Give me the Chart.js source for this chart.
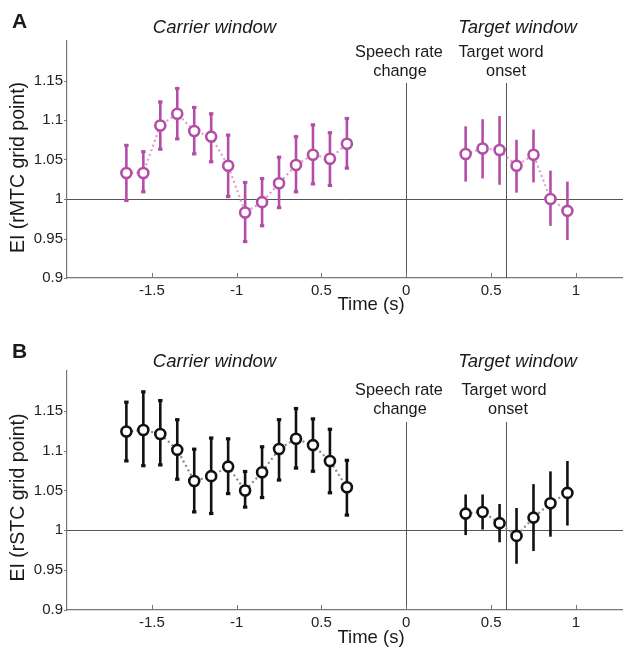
<!DOCTYPE html>
<html><head><meta charset="utf-8">
<script src="https://cdn.jsdelivr.net/npm/chart.js@4"></script>
<style>
html,body{margin:0;padding:0;background:#fff;overflow:hidden;}
#wrap{position:relative;width:623px;height:648px;overflow:hidden;}
.p{position:absolute;left:0;width:631px;}
</style></head><body>
<div id="wrap">
<div class="p" style="top:0;height:330px;"><canvas id="cA" width="631" height="330"></canvas></div>
<div class="p" style="top:330px;height:318px;"><canvas id="cB" width="631" height="318"></canvas></div>
</div>
<script>
// ---- data ----
const carrierTimes = [-1.65,-1.55,-1.45,-1.35,-1.25,-1.15,-1.05,-0.95,-0.85,-0.75,-0.65,-0.55,-0.45,-0.35];
const targetTimes = [0.35,0.45,0.55,0.65,0.75,0.85,0.95];

const aCarrierMean = [1.033,1.033,1.093,1.108,1.086,1.079,1.042,0.983,0.996,1.020,1.043,1.056,1.051,1.070];
const aCarrierHi   = [1.068,1.060,1.123,1.140,1.116,1.108,1.081,1.021,1.026,1.053,1.079,1.094,1.084,1.102];
const aCarrierLo   = [0.998,1.009,1.063,1.076,1.057,1.047,1.003,0.946,0.966,0.989,1.009,1.019,1.017,1.039];
const aTargetMean  = [1.057,1.064,1.062,1.042,1.056,1.000,0.985];
const aTargetHi    = [1.092,1.101,1.105,1.075,1.088,1.036,1.022];
const aTargetLo    = [1.022,1.026,1.018,1.008,1.021,0.966,0.948];

const bCarrierMean = [1.124,1.126,1.121,1.101,1.062,1.068,1.080,1.050,1.073,1.102,1.115,1.107,1.087,1.054];
const bCarrierHi   = [1.161,1.174,1.163,1.139,1.102,1.116,1.115,1.074,1.105,1.139,1.153,1.140,1.127,1.088];
const bCarrierLo   = [1.087,1.081,1.082,1.064,1.023,1.021,1.046,1.029,1.041,1.063,1.078,1.074,1.047,1.019];
const bTargetMean  = [1.021,1.023,1.009,0.993,1.016,1.034,1.047];
const bTargetHi    = [1.045,1.045,1.033,1.028,1.058,1.074,1.087];
const bTargetLo    = [0.994,1.001,0.985,0.958,0.974,0.992,1.006];

const xTickValues = [-1.5,-1,-0.5,0,0.5,1];
const xTickLabels = ['-1.5','-1','0.5','0','0.5','1'];
const yTickValues = [0.9,0.95,1,1.05,1.1,1.15];
const yTickLabels = ['0.9','0.95','1','1.05','1.1','1.15'];
const speechRateChange = 0;
const targetWordOnset = 0.59;
const baseline = 1;

const FONT = '"Liberation Sans", Arial, Helvetica, sans-serif';

function pts(xs, ys){ return xs.map((x,i)=>({x:x,y:ys[i]})); }

function makeChart(id, cfg){
  const lineData = pts(carrierTimes, cfg.cm).concat([{x:0,y:null}]).concat(pts(targetTimes, cfg.tm));
  const errPlugin = {
    id:'err'+id,
    beforeDatasetsDraw(chart){
      const ctx = chart.ctx, xs = chart.scales.x, ys = chart.scales.y, ca = chart.chartArea;
      ctx.save();
      ctx.strokeStyle = '#555'; ctx.lineWidth = 1;
      ctx.beginPath();
      const y1 = Math.round(ys.getPixelForValue(baseline))+0.5;
      ctx.moveTo(ca.left, y1); ctx.lineTo(ca.right, y1);
      const v0 = Math.round(xs.getPixelForValue(speechRateChange))+0.5;
      ctx.moveTo(v0, ca.top+cfg.vTop); ctx.lineTo(v0, ca.bottom);
      const v1 = Math.round(xs.getPixelForValue(targetWordOnset))+0.5;
      ctx.moveTo(v1, ca.top+cfg.vTop); ctx.lineTo(v1, ca.bottom);
      ctx.stroke();
      ctx.strokeStyle = '#777';
      ctx.beginPath();
      xTickValues.forEach(v=>{ const px = Math.round(xs.getPixelForValue(v))+0.5; ctx.moveTo(px, ca.bottom); ctx.lineTo(px, ca.bottom-5); });
      yTickValues.forEach(v=>{ const py = Math.round(ys.getPixelForValue(v))+0.5; ctx.moveTo(ca.left, py); ctx.lineTo(ca.left-3, py); });
      ctx.stroke();
      ctx.strokeStyle = cfg.color; ctx.fillStyle = cfg.color; ctx.lineWidth = 2.6; ctx.lineCap='butt';
      function bars(xsArr, hi, lo, caps){
        xsArr.forEach((t,i)=>{
          const px = xs.getPixelForValue(t), ph = ys.getPixelForValue(hi[i]), pl = ys.getPixelForValue(lo[i]);
          ctx.beginPath(); ctx.moveTo(px, ph); ctx.lineTo(px, pl); ctx.stroke();
          if(caps){ ctx.fillRect(px-2.2, ph-1.5, 4.4, 3.2); ctx.fillRect(px-2.2, pl-1.7, 4.4, 3.2); }
        });
      }
      bars(carrierTimes, cfg.ch, cfg.cl, true);
      bars(targetTimes, cfg.th, cfg.tl, false);
      ctx.restore();
    },
    afterDraw(chart){
      const ctx = chart.ctx;
      ctx.save();
      ctx.fillStyle = '#1a1a1a';
      ctx.textAlign='left'; ctx.textBaseline='middle';
      ctx.font = 'bold 21px '+FONT;
      ctx.fillText(cfg.letter, 12, 22);
      ctx.textAlign='center';
      ctx.font = 'italic 18.5px '+FONT;
      ctx.fillText('Carrier window', 214.5, cfg.headY);
      ctx.fillText('Target window', 517.5, cfg.headY);
      ctx.font = '16.3px '+FONT;
      ctx.fillText('Speech rate', 399, cfg.lab1);
      ctx.fillText('change', 400, cfg.lab2);
      ctx.fillText('Target word', cfg.twX, cfg.lab1);
      ctx.fillText('onset', cfg.onX, cfg.lab2);
      ctx.font = '18.5px '+FONT;
      ctx.fillText('Time (s)', 371, cfg.timeY);
      ctx.translate(19, 167.5); ctx.rotate(-Math.PI/2);
      ctx.font = '19.5px '+FONT;
      ctx.fillText(cfg.yTitle, 0, 0);
      ctx.restore();
    }
  };
  return new Chart(document.getElementById(id), {
    type:'line',
    data:{datasets:[{
      data: lineData,
      borderColor: cfg.dotColor,
      borderWidth: 2.2,
      borderDash:[2,3],
      spanGaps:false,
      pointRadius:5,
      pointHoverRadius:5,
      pointBorderWidth:2.6,
      pointBorderColor: cfg.color,
      pointBackgroundColor:'#fff'
    }]},
    options:{
      responsive:false, animation:false,
      layout:{padding:{left:0,right:0,top:41,bottom:0}},
      plugins:{legend:{display:false}, tooltip:{enabled:false}, title:{display:false}},
      scales:{
        x:{type:'linear', min:-2, max:1.28,
          afterBuildTicks(s){ s.ticks = xTickValues.map(v=>({value:v})); },
          afterFit(s){ s.height = cfg.xH; },
          ticks:{callback:(v)=>{const i=xTickValues.indexOf(v); return i>=0?xTickLabels[i]:'';}, font:{family:FONT,size:15}, color:'#222', padding:4, maxRotation:0, autoSkip:false},
          grid:{display:true, drawOnChartArea:false, drawTicks:false},
          border:{display:true, color:'#777', width:1.2}
        },
        y:{type:'linear', min:0.9, max:1.2,
          afterBuildTicks(s){ s.ticks = yTickValues.map(v=>({value:v})); },
          afterFit(s){ s.width = 67; },
          ticks:{callback:(v)=>{const i=yTickValues.findIndex(t=>Math.abs(t-v)<1e-9); return i>=0?yTickLabels[i]:'';}, font:{family:FONT,size:15}, color:'#222', padding:4, autoSkip:false},
          grid:{display:true, drawOnChartArea:false, drawTicks:false},
          border:{display:true, color:'#777', width:1.2}
        }
      }
    },
    plugins:[errPlugin]
  });
}

makeChart('cA', {letter:'A', cm:aCarrierMean, ch:aCarrierHi, cl:aCarrierLo, tm:aTargetMean, th:aTargetHi, tl:aTargetLo,
  color:'#b34ea6', dotColor:'#d89fcf', headY:28, lab1:53, lab2:72, twX:501, onX:506, timeY:305, yTitle:'EI (rMTC grid point)', xH:52, vTop:42});
makeChart('cB', {letter:'B', cm:bCarrierMean, ch:bCarrierHi, cl:bCarrierLo, tm:bTargetMean, th:bTargetHi, tl:bTargetLo,
  color:'#111', dotColor:'#8a8a8a', headY:32, lab1:61, lab2:80, twX:504, onX:508, timeY:307.5, yTitle:'EI (rSTC grid point)', xH:38, vTop:51});
</script>
</body></html>
